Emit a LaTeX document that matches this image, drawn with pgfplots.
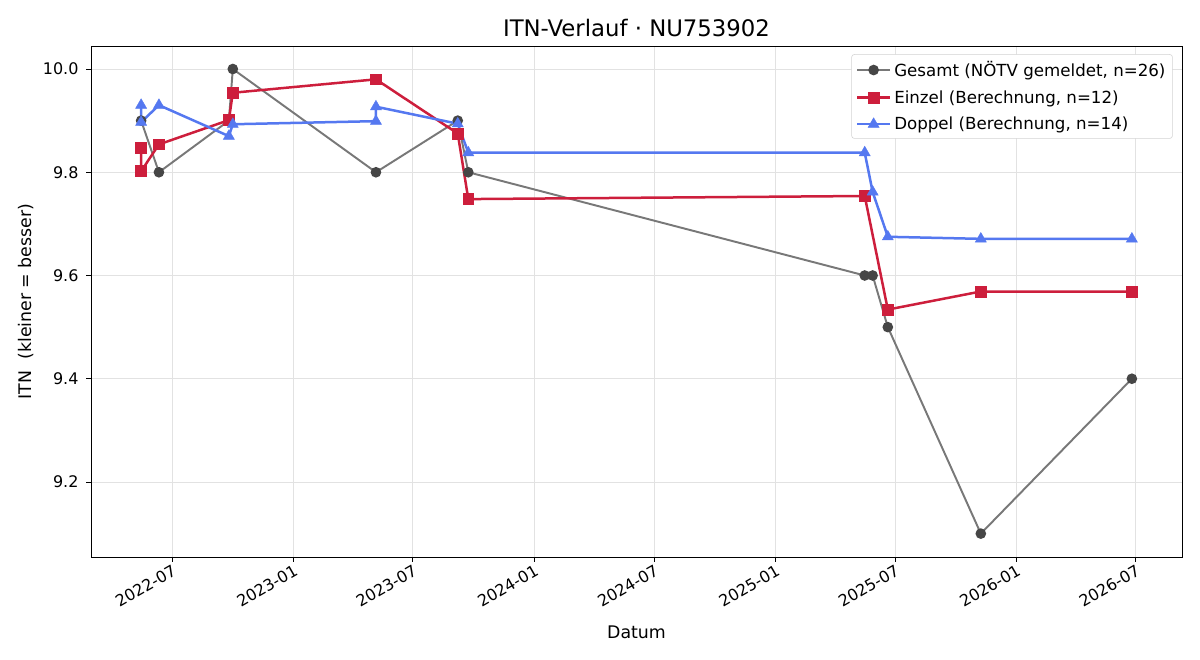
\documentclass[border=0pt]{standalone}
\usepackage{pgfplots}
\pgfplotsset{compat=1.18}
\usepackage{fontspec}
\setmainfont{DejaVu Sans}
\definecolor{greyline}{RGB}{120,120,120}
\definecolor{greymark}{RGB}{70,70,70}
\definecolor{redc}{RGB}{205,30,60}
\definecolor{bluec}{RGB}{85,120,240}
\definecolor{gridc}{RGB}{226,226,226}
\begin{document}
\begin{tikzpicture}
\useasboundingbox (-65.52pt,-74.16pt) rectangle (798.48pt,401.04pt);
\begin{axis}[
  at={(0,0)}, anchor=south west,
  width=785.52pt, height=367.92pt, scale only axis,
  xmin=58, xmax=1712, ymin=9.0547, ymax=10.0446,
  xtick={181,365,546,730,912,1096,1277,1461,1642},
  xticklabels={2022-07,2023-01,2023-07,2024-01,2024-07,2025-01,2025-07,2026-01,2026-07},
  every tick label/.append style={font=\fontsize{11.5}{13}\selectfont},
  xticklabel style={rotate=30, anchor=north east, font=\fontsize{11.5}{13}\selectfont, inner sep=1pt, yshift=0pt},
  ytick={9.2,9.4,9.6,9.8,10.0},
  yticklabel style={font=\fontsize{11.5}{13}\selectfont, xshift=-2pt, /pgf/number format/.cd, fixed, fixed zerofill, precision=1, assume math mode=true},
  /pgf/number format/assume math mode=true,
  xtick pos=bottom, ytick pos=left,
  tick align=outside, major tick length=3.5pt,
  tick style={black, line width=0.6pt},
  axis line style={black, line width=0.6pt},
  grid=major, grid style={gridc, line width=0.6pt},
  title={ITN-Verlauf · NU753902},
  title style={font=\fontsize{16.4}{19}\selectfont, yshift=-3pt},
  xlabel={Datum},
  ylabel={ITN\ \ (kleiner = besser)},
  label style={font=\fontsize{12.5}{14}\selectfont},
  xlabel style={yshift=-8pt},
  ylabel style={yshift=0pt},
  legend style={at={(0.9915,0.984)}, anchor=north east, draw=gray!35, rounded corners=2pt,
    font=\fontsize{12}{14.5}\selectfont, cells={anchor=west}, inner sep=3pt, row sep=4.4pt,
    /tikz/every even column/.append style={column sep=5pt}},
  legend image code/.code={\draw[mark repeat=2,mark phase=2] plot coordinates {(0cm,0cm) (0.42cm,0cm) (0.84cm,0cm)};},
  clip=false,
]
\addplot[greyline, line width=1.4pt, mark=*, mark size=3.1pt, mark options={fill=greymark, draw=greymark}]
  coordinates {(134,9.9) (161,9.8) (267,9.9) (273,10.0) (490,9.8) (614,9.9) (630,9.8) (1231,9.6) (1243,9.6) (1266,9.5) (1407,9.1) (1636,9.4)};
\addlegendentry{Gesamt (NÖTV gemeldet, n=26)}
\addplot[redc, line width=1.8pt, mark=square*, mark size=3.9pt, mark options={fill=redc, draw=redc, line width=0.5pt}]
  coordinates {(134,9.848) (134,9.802) (161,9.854) (267,9.901) (273,9.954) (490,9.980) (614,9.875) (630,9.748) (1231,9.754) (1266,9.534) (1407,9.569) (1636,9.569)};
\addlegendentry{Einzel (Berechnung, n=12)}
\addplot[bluec, line width=1.8pt, mark=triangle*, mark size=4.6pt, mark options={fill=bluec, draw=bluec, line width=0.3pt}]
  coordinates {(134,9.930) (134,9.897) (161,9.930) (267,9.870) (273,9.893) (490,9.899) (490,9.927) (614,9.894) (630,9.838) (1231,9.838) (1243,9.762) (1266,9.675) (1407,9.671) (1636,9.671)};
\addlegendentry{Doppel (Berechnung, n=14)}
\end{axis}
\end{tikzpicture}
\end{document}
